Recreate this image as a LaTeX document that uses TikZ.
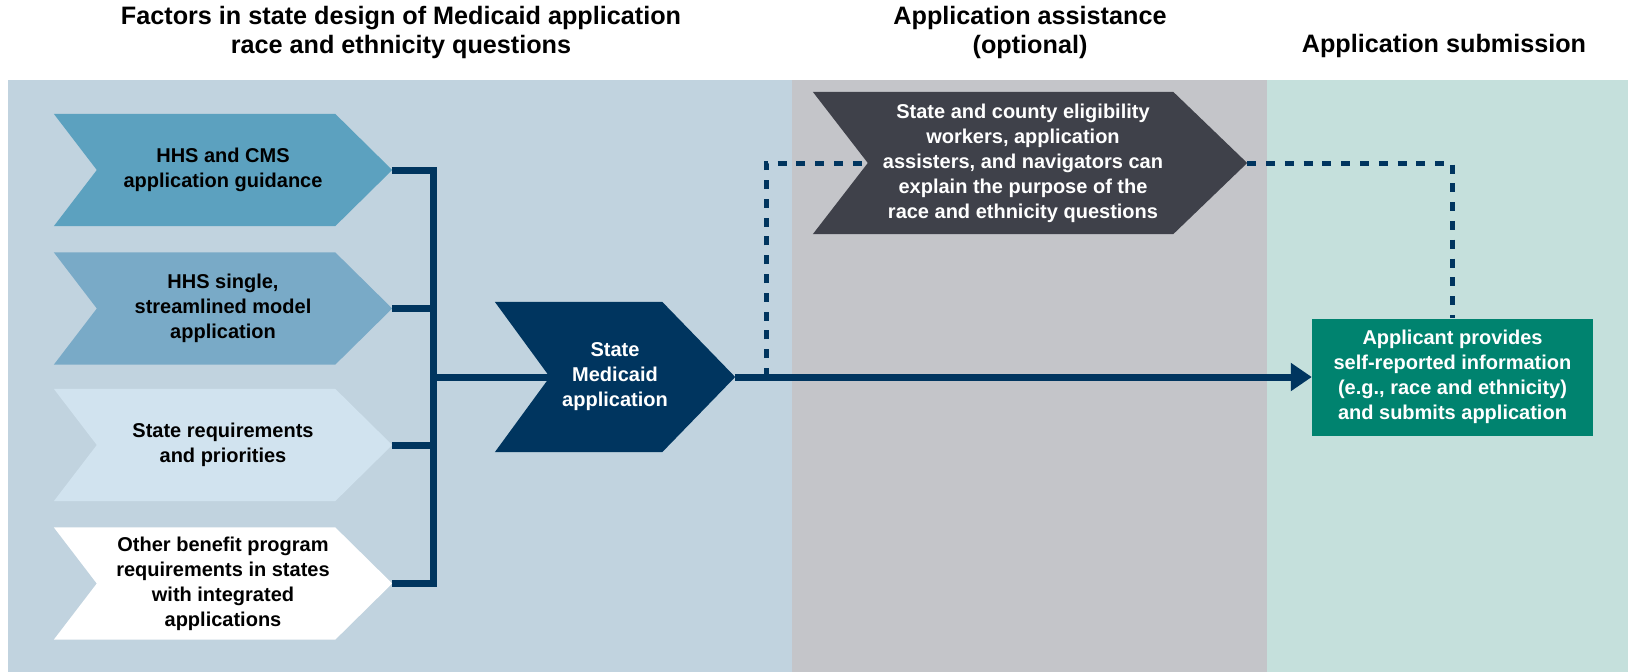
\documentclass[tikz,border=0pt]{standalone}
\usepackage{fontspec}
\setmainfont{Liberation Sans}
\usetikzlibrary{arrows.meta}

\definecolor{panelblue}{HTML}{C1D3DF}
\definecolor{panelgray}{HTML}{C4C5C9}
\definecolor{panelgreen}{HTML}{C5E0DC}
\definecolor{chevA}{HTML}{5CA1BF}
\definecolor{chevB}{HTML}{79AAC7}
\definecolor{chevC}{HTML}{D1E3EF}
\definecolor{chevD}{HTML}{FFFFFF}
\definecolor{navy}{HTML}{00355F}
\definecolor{slate}{HTML}{3F414A}
\definecolor{appgreen}{HTML}{00836F}

\pgfdeclarelayer{panels}
\pgfdeclarelayer{shapes}
\pgfsetlayers{panels,shapes,main}

\newcommand\boxfont{\fontsize{20}{25}\selectfont\bfseries}
\newcommand\headfont{\fontsize{25.2}{29}\selectfont\bfseries}

% chevron body behind a node: #1 node, #2 colour, #3 point depth, #4 notch depth
\newcommand\chevronfill[4]{%
  \begin{pgfonlayer}{shapes}
    \fill[#2] (#1.north west) -- ([xshift=-#3]#1.north east) -- (#1.east)
      -- ([xshift=-#3]#1.south east) -- (#1.south west) -- ([xshift=#4]#1.west) -- cycle;
  \end{pgfonlayer}}

\tikzset{
  heading/.style={align=center, font=\headfont, inner sep=0pt},
  chevnode/.style={inner sep=0pt, align=center, font=\boxfont},
  conn/.style={draw=navy, line width=7pt, line join=miter},
  dashconn/.style={draw=navy, line width=5pt, dash pattern=on 9pt off 9.8pt},
}

\begin{document}
\begin{tikzpicture}[x=1pt,y=-1pt]
\useasboundingbox (0,0) rectangle (1628,672);

% background bands
\begin{pgfonlayer}{panels}
  \fill[white] (0,0) rectangle (1628,672);
  \fill[panelblue] (8,80) rectangle (792,672);
  \fill[panelgray] (792,80) rectangle (1267,672);
  \fill[panelgreen] (1267,80) rectangle (1628,672);
\end{pgfonlayer}

% column headings
\node[heading] (h1) at (401,32.5) {Factors in state design of Medicaid application\\race and ethnicity questions};
\node[heading] (h2) at (1030,32.5) {Application assistance\\(optional)};
\node[heading] (h3) at (1444,46) {Application submission};

% factor chevrons
\node[chevnode, minimum width=338pt, minimum height=112pt] (c1) at (223,170)
  {HHS and CMS\\application guidance};
\node[chevnode, minimum width=338pt, minimum height=112pt] (c2) at (223,308.5)
  {HHS single,\\streamlined model\\application};
\node[chevnode, minimum width=338pt, minimum height=112pt] (c3) at (223,445)
  {State requirements\\and priorities};
\node[chevnode, minimum width=338pt, minimum height=112pt] (c4) at (223,583.5)
  {Other benefit program\\requirements in states\\with integrated\\applications};
\chevronfill{c1}{chevA}{57pt}{43pt}
\chevronfill{c2}{chevB}{57pt}{43pt}
\chevronfill{c3}{chevC}{57pt}{43pt}
\chevronfill{c4}{chevD}{57pt}{43pt}

% state application
\node[chevnode, text=white, minimum width=240pt, minimum height=150pt] (sm) at (615,377)
  {State\\Medicaid\\application};
\chevronfill{sm}{navy}{73pt}{55pt}

% assistance
\node[chevnode, text=white, minimum width=434pt, minimum height=142pt] (asst) at (1030,163)
  {\hspace*{-14pt}State and county eligibility\\\hspace*{-14pt}workers, application\\\hspace*{-14pt}assisters, and navigators can\\\hspace*{-14pt}explain the purpose of the\\\hspace*{-14pt}race and ethnicity questions};
\chevronfill{asst}{slate}{74pt}{55pt}

% submission
\node[chevnode, text=white, fill=appgreen, minimum width=281pt, minimum height=117pt] (app) at (1452.5,377)
  {Applicant provides\\self-reported information\\(e.g., race and ethnicity)\\and submits application};

% bracket joining the factors
\coordinate (bus) at (433,377);
\draw[conn] (c1.east) -| (bus);
\draw[conn] (c4.east) -| (bus);
\draw[conn] (c2.east) -- (c2.east -| bus);
\draw[conn] (c3.east) -- (c3.east -| bus);
\draw[conn] (bus) -- ([xshift=55pt]sm.west);

% main flow
\draw[conn, -{Triangle[length=21pt,width=27pt]}] (sm.east) -- (app.west);

% optional assistance route
\coordinate (split) at (766,377);
\draw[dashconn] (split) |- ([xshift=55pt]asst.west);
\draw[dashconn] (asst.east) -| (app.north);
\end{tikzpicture}
\end{document}
